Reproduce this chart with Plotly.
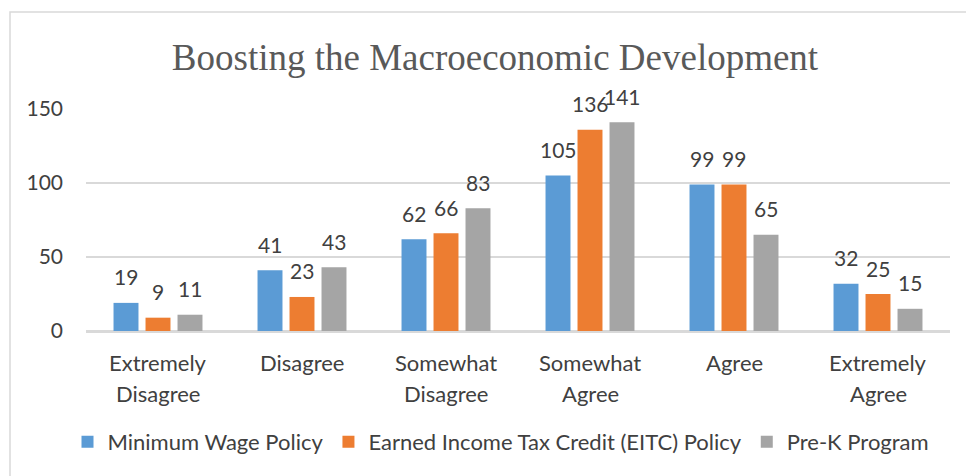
import plotly.graph_objects as go

# Survey responses: "Boosting the Macroeconomic Development"
categories = ["Extremely Disagree", "Disagree", "Somewhat Disagree",
              "Somewhat Agree", "Agree", "Extremely Agree"]
series_names = ["Minimum Wage Policy",
                "Earned Income Tax Credit (EITC) Policy",
                "Pre-K Program"]
minimum_wage = [19, 41, 62, 105, 99, 32]
eitc = [9, 23, 66, 136, 99, 25]
pre_k = [11, 43, 83, 141, 65, 15]
y_ticks = [0, 50, 100, 150]

series_values = [minimum_wage, eitc, pre_k]
colors = ["#5B9BD5", "#ED7D31", "#A5A5A5"]

W, H = 966, 476
M_L, M_R, M_T, M_B = 86, 16, 109, 145
plot_w = W - M_L - M_R
plot_h = H - M_T - M_B

FONT = "Lato"
TXT = "#404040"

fig = go.Figure()
for name, vals, col in zip(series_names, series_values, colors):
    fig.add_trace(go.Bar(
        x=categories, y=vals, name=name,
        marker=dict(color=col, line=dict(width=0)),
    ))

annotations = []
# value labels above each bar
slot = plot_w / len(categories) * (1 - 1 / 3) / 3
for i, vals in enumerate(series_values):
    offset = (i - 1) * slot
    for cat, v in zip(categories, vals):
        annotations.append(dict(
            x=cat, y=v, xref="x", yref="y", text=str(v), showarrow=False,
            xshift=offset, yshift=26, yanchor="middle",
            font=dict(family=FONT, size=21, color=TXT),
        ))

# category labels, wrapped on words as two lines
for cat in categories:
    words = cat.split(" ")
    for j, line in enumerate(words):
        annotations.append(dict(
            x=cat, y=0, xref="x", yref="y", text=line, showarrow=False,
            yshift=-31 - 31 * j, yanchor="middle",
            font=dict(family=FONT, size=22, color=TXT),
        ))

fig.update_layout(
    width=W, height=H,
    margin=dict(l=M_L, r=M_R, t=M_T, b=M_B),
    paper_bgcolor="white", plot_bgcolor="white",
    barmode="group", bargap=1 / 3, bargroupgap=0.22,
    title=dict(
        text="Boosting the Macroeconomic Development",
        font=dict(family="Liberation Serif", size=37, color="#595959"),
        x=495 / W, xanchor="center", y=1 - 57 / H, yanchor="middle",
    ),
    showlegend=True,
    legend=dict(
        orientation="h", x=(501 - M_L) / plot_w, xanchor="center",
        y=-(442 - (M_T + plot_h)) / plot_h, yanchor="middle",
        font=dict(family=FONT, size=22, color=TXT),
        itemwidth=30, traceorder="normal",
    ),
    annotations=annotations,
    shapes=[dict(
        type="rect", xref="paper", yref="paper",
        x0=(10 - M_L) / plot_w, x1=(W + 20 - M_L) / plot_w,
        y0=-(H + 20 - M_T - plot_h) / plot_h, y1=(M_T + plot_h - 12) / plot_h,
        line=dict(color="#D9D9D9", width=1.5), layer="below",
    )],
)

fig.update_xaxes(showticklabels=False, showgrid=False, showline=False,
                 zeroline=False, ticks="")
fig.update_yaxes(
    range=[0, 150], tickvals=y_ticks, showgrid=True,
    gridcolor="#D9D9D9", gridwidth=1.5,
    zeroline=True, zerolinecolor="#D9D9D9", zerolinewidth=2.5,
    showline=False, ticks="", ticklabelstandoff=22,
    tickfont=dict(family=FONT, size=21, color=TXT),
)

fig.write_html("out.html")
